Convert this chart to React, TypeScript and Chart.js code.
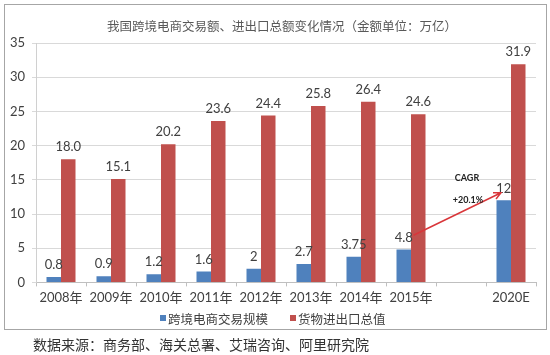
import React, { useEffect, useRef } from "react";
import { Chart, registerables } from "chart.js";

Chart.register(...registerables);

// ---- data ----
const categories = ["2008年", "2009年", "2010年", "2011年", "2012年", "2013年", "2014年", "2015年", "", "2020E"];
const crossBorderValues = [0.8, 0.9, 1.2, 1.6, 2, 2.7, 3.75, 4.8, null, 12];
const tradeTotalValues = [18.0, 15.1, 20.2, 23.6, 24.4, 25.8, 26.4, 24.6, null, 31.9];
const seriesNames = ["跨境电商交易规模", "货物进出口总值"];
const titleText = "我国跨境电商交易额、进出口总额变化情况（金额单位：万亿）";
const sourceText = "数据来源：商务部、海关总署、艾瑞咨询、阿里研究院";
const yMin = 0;
const yMax = 35;
const yStep = 5;
// CAGR annotation (data units: category index, value)
const arrowFrom = [7.05, 6.9];
const arrowTo = [8.8, 13.1];
const cagrTexts = ["CAGR", "+20.1%"];
const cagrTextPos = [
  [8.12, 15.2],
  [8.14, 12.0],
];

const FONT = "Lato, 'Noto Sans CJK SC', sans-serif";
const CJK = "'Noto Sans CJK SC', sans-serif";
const BLUE = "#4F81BD";
const RED = "#C0504D";
const COLORS = [BLUE, RED];

const labelPlugin = {
  id: "valueLabels",
  afterDatasetsDraw(chart: any) {
    const ctx = chart.ctx;
    ctx.save();
    ctx.font = `13px ${FONT}`;
    ctx.fillStyle = "#404040";
    ctx.textAlign = "center";
    ctx.textBaseline = "middle";
    chart.data.datasets.forEach((ds: any, di: number) => {
      const meta = chart.getDatasetMeta(di);
      ds.data.forEach((v: number | null, i: number) => {
        if (v === null || v === undefined) return;
        const el = meta.data[i];
        const txt = di === 1 ? v.toFixed(1) : String(v);
        ctx.fillText(txt, el.x, el.y - 12);
      });
    });

    // CAGR arrow
    const xs = chart.scales.x;
    const ys = chart.scales.y;
    const x1 = xs.getPixelForValue(arrowFrom[0]);
    const y1 = ys.getPixelForValue(arrowFrom[1]);
    const x2 = xs.getPixelForValue(arrowTo[0]);
    const y2 = ys.getPixelForValue(arrowTo[1]);
    ctx.strokeStyle = "#D9363A";
    ctx.lineWidth = 1.5;
    ctx.beginPath();
    ctx.moveTo(x1, y1);
    ctx.lineTo(x2, y2);
    const ang = Math.atan2(y2 - y1, x2 - x1);
    const hl = 8;
    ctx.moveTo(x2 - hl * Math.cos(ang - 0.45), y2 - hl * Math.sin(ang - 0.45));
    ctx.lineTo(x2, y2);
    ctx.lineTo(x2 - hl * Math.cos(ang + 0.45), y2 - hl * Math.sin(ang + 0.45));
    ctx.stroke();

    ctx.font = `bold 9px ${FONT}`;
    ctx.fillStyle = "#222222";
    cagrTexts.forEach((t, i) => {
      ctx.fillText(t, xs.getPixelForValue(cagrTextPos[i][0]), ys.getPixelForValue(cagrTextPos[i][1]));
    });
    ctx.restore();
  },
};

export default function App() {
  const canvasRef = useRef<HTMLCanvasElement | null>(null);

  useEffect(() => {
    document.body.style.margin = "0";
    const canvas = canvasRef.current;
    if (!canvas) return;
    const chart = new Chart(canvas, {
      type: "bar",
      data: {
        labels: categories,
        datasets: [
          {
            label: seriesNames[0],
            data: crossBorderValues,
            backgroundColor: BLUE,
            categoryPercentage: 0.58,
            barPercentage: 1,
          },
          {
            label: seriesNames[1],
            data: tradeTotalValues,
            backgroundColor: RED,
            categoryPercentage: 0.58,
            barPercentage: 1,
          },
        ],
      } as any,
      options: {
        responsive: false,
        animation: false,
        layout: { padding: { left: 6, right: 14, top: 43, bottom: 45 } },
        plugins: {
          title: { display: false },
          legend: { display: false },
          tooltip: { enabled: false },
        },
        scales: {
          x: {
            grid: {
              offset: true,
              drawOnChartArea: false,
              drawTicks: true,
              tickLength: 4,
              color: "#BFBFBF",
            },
            border: { color: "#BFBFBF" },
            ticks: {
              color: "#404040",
              font: { family: FONT, size: 13 },
              padding: 4,
              maxRotation: 0,
              autoSkip: false,
            },
          },
          y: {
            min: yMin,
            max: yMax,
            afterFit(scale: any) {
              scale.width = 30;
            },
            grid: { color: "#D9D9D9", tickLength: 4 },
            border: { color: "#D0D0D0" },
            ticks: {
              stepSize: yStep,
              color: "#404040",
              font: { family: FONT, size: 13 },
              padding: 7,
            },
          },
        },
      },
      plugins: [labelPlugin],
    } as any);
    return () => chart.destroy();
  }, []);

  return (
    <div style={{ position: "absolute", left: 0, top: 0, width: 550, height: 355, background: "#fff" }}>
      <canvas ref={canvasRef} width={550} height={355} style={{ position: "absolute", left: 0, top: 0 }} />
      <div
        style={{
          position: "absolute",
          left: 4,
          top: 4,
          width: 541,
          height: 324,
          border: "1px solid #A6A6A6",
          pointerEvents: "none",
        }}
      />
      <div
        style={{
          position: "absolute",
          left: 82,
          width: 400,
          top: 17,
          textAlign: "center",
          fontSize: 12.5,
          lineHeight: "18px",
          color: "#595959",
          fontFamily: CJK,
          whiteSpace: "nowrap",
        }}
      >
        {titleText}
      </div>
      <div
        style={{
          position: "absolute",
          left: 160,
          top: 309,
          height: 18,
          display: "flex",
          alignItems: "center",
          fontSize: 12.5,
          color: "#404040",
          fontFamily: CJK,
          whiteSpace: "nowrap",
        }}
      >
        {seriesNames.map((name, i) => (
          <div key={name} style={{ display: "flex", alignItems: "center", marginRight: i === 0 ? 22 : 0 }}>
            <span style={{ display: "inline-block", width: 6, height: 6, background: COLORS[i], marginRight: 2 }} />
            <span>{name}</span>
          </div>
        ))}
      </div>
      <div
        style={{
          position: "absolute",
          left: 33,
          top: 335,
          fontSize: 14,
          lineHeight: "18px",
          color: "#333",
          fontFamily: CJK,
          whiteSpace: "nowrap",
        }}
      >
        {sourceText}
      </div>
    </div>
  );
}
